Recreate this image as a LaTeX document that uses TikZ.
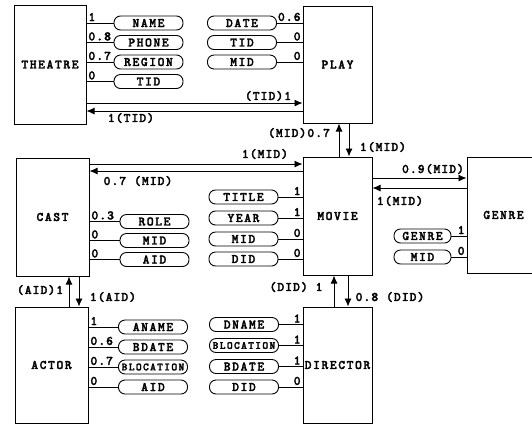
\documentclass[tikz,border=0pt]{standalone}
\usepackage{fontspec}
\newfontfamily\courb{lmmonolt10-bold}[Extension=.otf, LetterSpace=12, FakeBold=2.2]
\newfontfamily\courl{lmmonolt10-bold}[Extension=.otf, LetterSpace=8, FakeBold=2.2]
\usetikzlibrary{arrows.meta}
\newcommand\blocname{{\fontsize{11}{11}\selectfont BLOCATION}}
\tikzset{
  ent/.style={draw, line width=1pt, inner sep=0pt, font=\courb\fontsize{13}{13}\selectfont},
  attr/.style={draw, line width=0.9pt, rounded corners=6.5pt, minimum width=69pt, minimum height=14pt, inner sep=0pt, font=\courb\fontsize{13}{13}\selectfont},
  lnk/.style={line width=0.9pt},
  arr/.style={line width=0.9pt, -{Latex[length=8pt,width=7pt]}},
  num/.style={font=\courl\fontsize{13}{13}\selectfont, inner sep=1.5pt},
  lab/.style={font=\courl\fontsize{13}{13}\selectfont, inner sep=0pt},
}
\begin{document}
\begin{tikzpicture}[x=1pt,y=-1pt]
\useasboundingbox (0,0) rectangle (532,424);
% entities
\node[ent, minimum width=72pt, minimum height=119pt] (theatre) at (50,64.5) {THEATRE};
\node[ent, minimum width=69pt, minimum height=117pt] (play) at (337.5,64.5) {PLAY};
\node[ent, minimum width=73pt, minimum height=118pt] (cast) at (52.5,217) {CAST};
\node[ent, minimum width=69pt, minimum height=118pt] (movie) at (337.5,216) {MOVIE};
\node[ent, minimum width=73pt, minimum height=116pt] (genre) at (503.5,215) {GENRE};
\node[ent, minimum width=73pt, minimum height=116pt] (actor) at (51.5,365) {ACTOR};
\node[ent, minimum width=69pt, minimum height=116pt] (director) at (337.5,365) {DIRECTOR};

% theatre attributes
\foreach \nm/\yy/\tx/\vl in {tname/23/NAME/1, tphone/42.5/PHONE/0.8, tregion/62/REGION/0.7, ttid/81.5/TID/0}{
  \node[attr] (\nm) at (148.5,\yy) {\tx};
  \draw[lnk] (theatre.east |- \nm.west) node[num, anchor=south west]{\vl} -- (\nm.west);
}
% play attributes
\foreach \nm/\yy/\tx/\vl in {pdate/23/DATE/0.6, ptid/42.5/TID/0, pmid/62/MID/0}{
  \node[attr] (\nm) at (242,\yy) {\tx};
  \draw[lnk] (play.west |- \nm.east) node[num, anchor=south east]{\vl} -- (\nm.east);
}
% cast attributes
\foreach \nm/\yy/\tx/\vl in {crole/221.5/ROLE/0.3, cmid/240.5/MID/0, caid/259.5/AID/0}{
  \node[attr] (\nm) at (154.5,\yy) {\tx};
  \draw[lnk] (cast.east |- \nm.west) node[num, anchor=south west]{\vl} -- (\nm.west);
}
% movie attributes
\foreach \nm/\yy/\tx/\vl in {mtitle/197/TITLE/1, myear/218/YEAR/1, mmid/239/MID/0, mdid/259/DID/0}{
  \node[attr] (\nm) at (243.5,\yy) {\tx};
  \draw[lnk] (movie.west |- \nm.east) node[num, anchor=south east]{\vl} -- (\nm.east);
}
% genre attributes
\foreach \nm/\yy/\tx/\vl in {ggenre/236/GENRE/1, gmid/257/MID/0}{
  \node[attr, minimum width=57pt] (\nm) at (422.5,\yy) {\tx};
  \draw[lnk] (genre.west |- \nm.east) node[num, anchor=south east]{\vl} -- (\nm.east);
}
% actor attributes
\foreach \nm/\yy/\tx/\vl in {aname/327/ANAME/1, abdate/347/BDATE/0.6, abloc/367/\blocname/0.7, aaid/387/AID/0}{
  \node[attr] (\nm) at (153,\yy) {\tx};
  \draw[lnk] (actor.east |- \nm.west) node[num, anchor=south west]{\vl} -- (\nm.west);
}
% director attributes
\foreach \nm/\yy/\tx/\vl in {dname/324.5/DNAME/1, dbloc/345.5/\blocname/1, dbdate/366.5/BDATE/1, ddid/387/DID/0}{
  \node[attr] (\nm) at (244,\yy) {\tx};
  \draw[lnk] (director.west |- \nm.east) node[num, anchor=south east]{\vl} -- (\nm.east);
}

% relationship arrows
\coordinate (y1) at (0,103);
\coordinate (y2) at (0,111);
\draw[arr] (theatre.east |- y1) -- (play.west |- y1);
\draw[arr] (play.west |- y2) -- (theatre.east |- y2);
\node[lab] (l1) at (268,96) {(TID)1};
\node[lab] (l2) at (131,118) {1(TID)};

\coordinate (x1) at (339,0);
\coordinate (x2) at (349,0);
\draw[arr] (movie.north -| x1) -- (play.south -| x1);
\draw[arr] (play.south -| x2) -- (movie.north -| x2);
\node[lab] (l3) at (299,133) {(MID)0.7};
\node[lab] (l4) at (383,147) {1(MID)};

\coordinate (y3) at (0,164);
\coordinate (y4) at (0,171);
\draw[arr] (cast.east |- y3) -- (movie.west |- y3);
\draw[arr] (movie.west |- y4) -- (cast.east |- y4);
\node[lab] (l5) at (265,154) {1(MID)};
\node[lab] (l6) at (138,181) {0.7 (MID)};

\coordinate (y5) at (0,178);
\coordinate (y6) at (0,188);
\draw[arr] (movie.east |- y5) -- (genre.west |- y5);
\draw[arr] (genre.west |- y6) -- (movie.east |- y6);
\node[lab] (l7) at (433,169) {0.9(MID)};
\node[lab] (l8) at (400,201) {1(MID)};

\coordinate (x3) at (69,0);
\coordinate (x4) at (79,0);
\draw[arr] (actor.north -| x3) -- (cast.south -| x3);
\draw[arr] (cast.south -| x4) -- (actor.north -| x4);
\node[lab] (l9) at (40,290) {(AID)1};
\node[lab] (l10) at (113,297) {1(AID)};

\coordinate (x5) at (334,0);
\coordinate (x6) at (348,0);
\draw[arr] (director.north -| x5) -- (movie.south -| x5);
\draw[arr] (movie.south -| x6) -- (director.north -| x6);
\node[lab] (l11) at (296,287) {(DID) 1};
\node[lab] (l12) at (390,297) {0.8 (DID)};
\end{tikzpicture}
\end{document}
